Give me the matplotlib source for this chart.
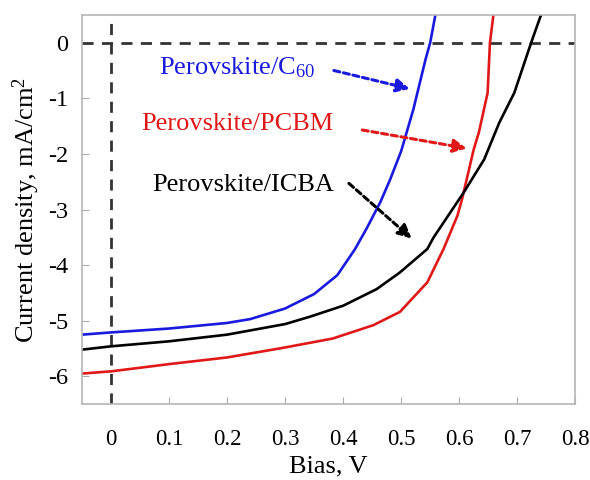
import matplotlib
matplotlib.use('Agg')
import matplotlib.pyplot as plt
import numpy as np

# J-V curves (bias V, current density mA/cm^2)
c60_v = [-0.05, 0.0, 0.1, 0.2, 0.24, 0.30, 0.35, 0.39, 0.42, 0.44, 0.464, 0.481, 0.50, 0.521, 0.542, 0.55, 0.559]
c60_j = [-5.25, -5.21, -5.14, -5.04, -4.97, -4.78, -4.52, -4.18, -3.72, -3.35, -2.87, -2.46, -1.95, -1.2, -0.3, 0.0, 0.5]

pcbm_v = [-0.05, 0.0, 0.1, 0.2, 0.295, 0.382, 0.452, 0.498, 0.545, 0.573, 0.597, 0.605, 0.625, 0.634, 0.649, 0.653, 0.659]
pcbm_j = [-5.95, -5.91, -5.78, -5.66, -5.49, -5.32, -5.08, -4.84, -4.31, -3.71, -3.11, -2.81, -1.92, -1.61, -0.9, 0.0, 0.5]

icba_v = [-0.05, 0.0, 0.1, 0.2, 0.3, 0.342, 0.40, 0.458, 0.498, 0.545, 0.556, 0.608, 0.643, 0.669, 0.695, 0.724, 0.741]
icba_j = [-5.52, -5.46, -5.37, -5.25, -5.06, -4.93, -4.73, -4.43, -4.13, -3.71, -3.5, -2.69, -2.1, -1.44, -0.9, 0.0, 0.5]

x_ticks = [0, 0.1, 0.2, 0.3, 0.4, 0.5, 0.6, 0.7, 0.8]
x_tick_labels = ['0', '0.1', '0.2', '0.3', '0.4', '0.5', '0.6', '0.7', '0.8']
y_ticks = [0, -1, -2, -3, -4, -5, -6]

plt.rcParams['font.family'] = ['Liberation Serif', 'DejaVu Serif']
plt.rcParams['mathtext.fontset'] = 'custom'
plt.rcParams['mathtext.rm'] = 'Liberation Serif'
plt.rcParams['mathtext.it'] = 'Liberation Serif:italic'
plt.rcParams['axes.unicode_minus'] = False

fig = plt.figure(figsize=(5.9, 4.8), dpi=100)
ax = fig.add_axes([0.139, 0.158, 0.836, 0.811])

ax.axhline(0, color='#333333', lw=2, ls=(0, (4, 3)))
ax.axvline(0, color='#333333', lw=2, ls=(0, (4, 3)))

ax.plot(c60_v, c60_j, color='#1a1adf', lw=1.9)
ax.plot(pcbm_v, pcbm_j, color='#e01818', lw=1.9)
ax.plot(icba_v, icba_j, color='black', lw=1.9)

ax.set_xlim(-0.05, 0.8)
ax.set_ylim(-6.5, 0.5)
ax.set_xticks(x_ticks)
ax.set_xticklabels(x_tick_labels)
ax.set_yticks(y_ticks)
ax.tick_params(direction='in', length=5, color='#aaaaaa', labelsize=17.5)
ax.tick_params(axis='x', pad=18, labelsize=16.5)
ax.tick_params(axis='y', pad=10)
for s in ax.spines.values():
    s.set_color('#b5b5b5')
    s.set_linewidth(1.2)

ax.set_xlabel('Bias, V', fontsize=19, labelpad=4)
ax.set_ylabel('Current density, mA/cm$^2$', fontsize=19, labelpad=4)

notes = [
    ('Perovskite/C$_{60}$', '#1a1adf', (0.083, -0.45), (0.384, -0.5), (0.515, -0.83)),
    ('Perovskite/PCBM', '#e01818', (0.052, -1.47), (0.433, -1.57), (0.613, -1.9)),
    ('Perovskite/ICBA', 'black', (0.071, -2.56), (0.41, -2.53), (0.518, -3.52)),
]
for txt, col, tpos, a0, a1 in notes:
    ax.text(tpos[0], tpos[1], txt, color=col, fontsize=19, va='center', ha='left')
    ax.annotate('', xy=a1, xytext=a0,
                arrowprops=dict(arrowstyle='-|>,head_length=0.8,head_width=0.4',
                                color=col, lw=2.2, ls=(0, (2, 1.2)), shrinkA=0, shrinkB=0))

fig.savefig('out.png', dpi=100)
